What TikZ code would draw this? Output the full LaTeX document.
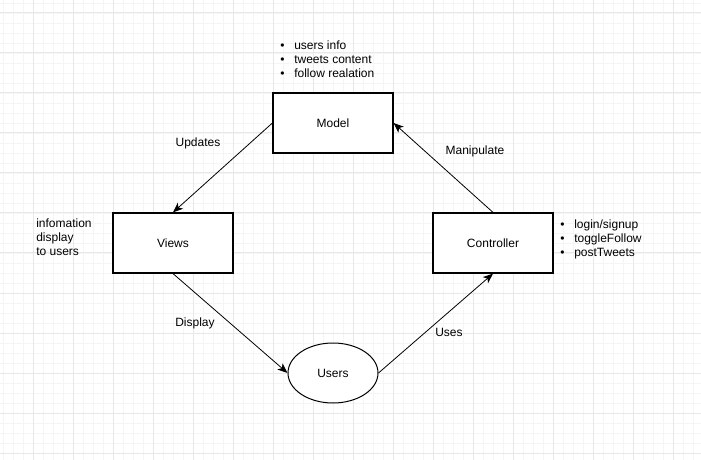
\documentclass[tikz,border=0pt]{standalone}
\usepackage{fontspec}
\setmainfont{Liberation Sans}
\usetikzlibrary{arrows.meta,shapes.geometric}
\tikzset{
  box/.style={draw=black, line width=0.9pt, fill=white, minimum width=90pt, minimum height=45pt, inner sep=0pt},
  oval/.style={ellipse, draw=black, line width=0.75pt, fill=white, minimum width=67.5pt, minimum height=45pt, inner sep=0pt},
  conn/.style={draw=black, line width=0.6pt, -{Stealth[length=7.5pt,width=6pt,inset=2pt]}},
  lbl/.style={inner sep=0pt, font=\fontsize{9}{10.5}\selectfont},
  lst/.style={inner sep=0pt, align=left, anchor=west, font=\fontsize{9}{10.5}\selectfont},
}
\newcommand{\bul}{\makebox[10.5pt][l]{\textbullet}}
\begin{document}
\begin{tikzpicture}[x=0.75pt,y=-0.75pt]
\useasboundingbox (0,0) rectangle (701,460);
\fill[white] (0,0) rectangle (701,460);
% minor grid
\foreach \i in {3,13,...,703} \draw[line width=0.5pt, color=black!4] (\i,0) -- (\i,460);
\foreach \j in {3,13,...,463} \draw[line width=0.5pt, color=black!4] (0,\j) -- (701,\j);
% major grid
\foreach \i in {33,73,...,700} \draw[line width=0.75pt, color=black!9] (\i,0) -- (\i,460);
\foreach \j in {13,53,...,460} \draw[line width=0.75pt, color=black!9] (0,\j) -- (701,\j);

\node[box, lbl] (model) at (333,123) {Model};
\node[box, lbl] (views) at (173,243) {Views};
\node[box, lbl] (ctrl) at (493,243) {Controller};
\node[oval, lbl] (users) at (333,373) {Users};

\draw[conn] (model.west) -- (views.north);
\draw[conn] (ctrl.north) -- (model.east);
\draw[conn] (views.south) -- (users.west);
\draw[conn] (users.east) -- (ctrl.south);

\node[lbl] (lupd) at (198,143) {Updates};
\node[lbl] (lman) at (475,151) {Manipulate};
\node[lbl] (ldis) at (195,323) {Display};
\node[lbl] (luse) at (449,332) {Uses};

\node[lst] (mlist) at (280,59) {\bul users info\\\bul tweets content\\\bul follow realation};
\node[lst] (clist) at (560,239) {\bul login/signup\\\bul toggleFollow\\\bul postTweets};
\node[lst] (info) at (36,237) {infomation\\display\\to users};
\end{tikzpicture}
\end{document}
